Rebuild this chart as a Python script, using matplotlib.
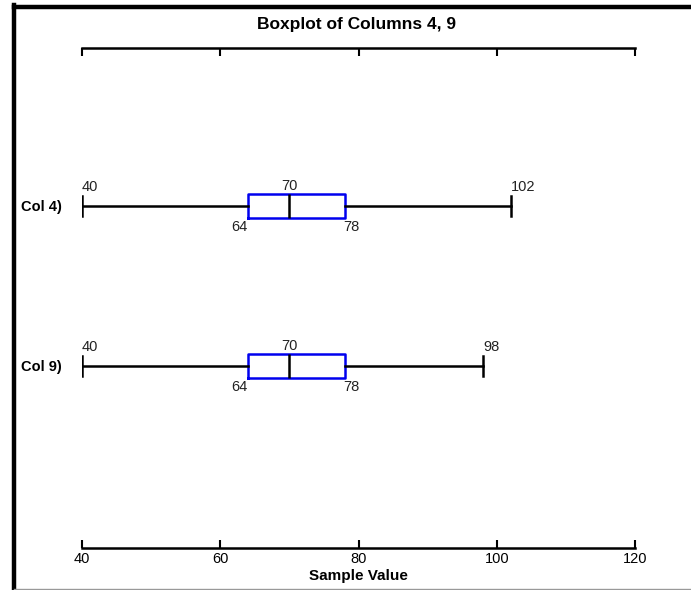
import matplotlib
matplotlib.use("Agg")
import matplotlib.pyplot as plt
from matplotlib.lines import Line2D

plt.rcParams['font.family'] = ['Liberation Sans', 'DejaVu Sans']

labels = ["Col 4)", "Col 9)"]
whislo = [40, 40]
q1 = [64, 64]
med = [70, 70]
q3 = [78, 78]
whishi = [102, 98]
xticks = [40, 60, 80, 100, 120]
title = "Boxplot of Columns 4, 9"
xlabel = "Sample Value"

W, H = 691, 590
fig = plt.figure(figsize=(W / 100, H / 100), dpi=100)
ax = fig.add_axes([82 / W, 42 / H, 553 / W, 500 / H])

positions = [2, 1]
stats = []
for i in range(len(labels)):
    stats.append(dict(med=med[i], q1=q1[i], q3=q3[i], whislo=whislo[i],
                      whishi=whishi[i], fliers=[], label=labels[i]))

ax.bxp(stats, positions=positions, orientation='horizontal', widths=0.144,
       capwidths=0.125, showfliers=False, patch_artist=False,
       boxprops=dict(color='#0000ee', linewidth=1.8),
       whiskerprops=dict(color='black', linewidth=1.8),
       capprops=dict(color='black', linewidth=1.8),
       medianprops=dict(color='black', linewidth=1.8))

ax.set_xlim(40, 120)
ax.set_ylim(-0.1375, 2.9875)
ax.set_xticks(xticks)
ax.set_xticklabels([str(t) for t in xticks], fontsize=10.5)
ax.set_yticks(positions)
ax.set_yticklabels(labels, fontsize=10.5, fontweight='bold')
ax.tick_params(axis='y', length=0, pad=14.5)
ax.tick_params(axis='x', direction='in', length=6, width=1.5, top=True,
               labeltop=False, pad=3)
for s in ['left', 'right']:
    ax.spines[s].set_visible(False)
for s in ['top', 'bottom']:
    ax.spines[s].set_linewidth(1.8)
ax.set_facecolor('none')

half = 0.072
for i, y in enumerate(positions):
    kw = dict(fontsize=10.5, color='#222222', textcoords='offset points')
    ax.annotate(str(whislo[i]), (whislo[i], y + 0.06), xytext=(0, 2), ha='left', va='bottom', **kw)
    ax.annotate(str(med[i]), (med[i], y + half), xytext=(0, 1), ha='center', va='bottom', **kw)
    ax.annotate(str(whishi[i]), (whishi[i], y + 0.06), xytext=(0, 2), ha='left', va='bottom', **kw)
    ax.annotate(str(q1[i]), (q1[i], y - half), xytext=(0, -1.5), ha='right', va='top', **kw)
    ax.annotate(str(q3[i]), (q3[i], y - half), xytext=(-1, -1.5), ha='left', va='top', **kw)

ax.set_xlabel(xlabel, fontsize=11, fontweight='bold', labelpad=2)
fig.text(357 / W, 1 - 25 / H, title, fontsize=12.5, fontweight='bold',
         ha='center', va='center')

# outer frame (left thick, top thick, bottom thin gray)
fig.add_artist(Line2D([14 / W, 14 / W], [0, 1 - 5 / H], transform=fig.transFigure,
                      color='black', linewidth=3.2, solid_capstyle='projecting'))
fig.add_artist(Line2D([14 / W, 1], [1 - 7 / H, 1 - 7 / H], transform=fig.transFigure,
                      color='black', linewidth=3.2))
fig.add_artist(Line2D([14 / W, 1], [1 - 588.5 / H, 1 - 588.5 / H], transform=fig.transFigure,
                      color='#999999', linewidth=1.0))

fig.savefig("out.png", dpi=100)
